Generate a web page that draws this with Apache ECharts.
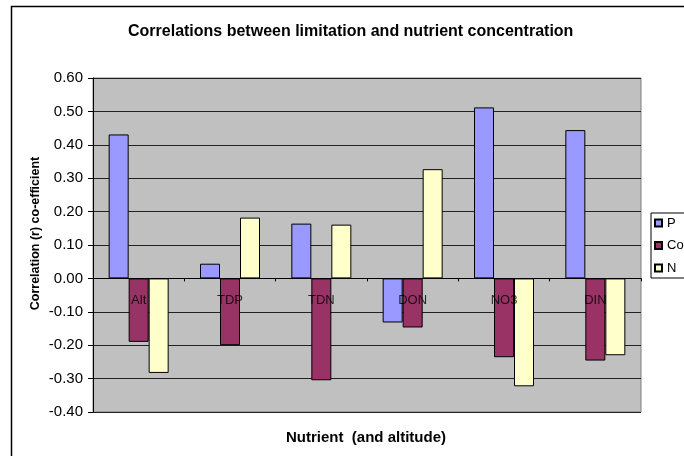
<!DOCTYPE html>
<html>
<head>
<meta charset="utf-8">
<script src="https://cdn.jsdelivr.net/npm/echarts@6/dist/echarts.min.js"></script>
<style>
  html, body { margin: 0; padding: 0; background: #fff; }
  #chart { width: 684px; height: 456px; }
</style>
</head>
<body>
<div id="chart"></div>
<script>
// Nutrient categories (altitude first)
const categories = ['Alt', 'TDP', 'TDN', 'DON', 'NO3', 'DIN'];

// Correlation coefficients per limitation group
const seriesNames = ['P', 'Co', 'N'];
const pValues  = [0.431, 0.044, 0.164, -0.132, 0.512, 0.444];
const coValues = [-0.190, -0.200, -0.305, -0.147, -0.236, -0.246];
const nValues  = [-0.283, 0.182, 0.161, 0.327, -0.323, -0.230];

// Category names sit just under the r = 0 line
const labelBaseline = [0, 0, 0, 0, 0, 0];

const seriesColors = ['#9999FF', '#993366', '#FFFFCC'];
const FONT = '"Liberation Sans", Arial, sans-serif';

const chart = echarts.init(document.getElementById('chart'), null, { renderer: 'canvas' });

const makeBar = (name, data, color) => ({
  name: name,
  type: 'bar',
  data: data,
  barWidth: 20,
  barGap: '0%',
  itemStyle: { color: color, borderColor: '#000', borderWidth: 1 }
});

chart.setOption({
  animation: false,
  backgroundColor: '#fff',
  textStyle: { fontFamily: FONT },
  title: {
    text: 'Correlations between limitation and nutrient concentration',
    left: 123,
    top: 19,
    textStyle: { fontFamily: FONT, fontSize: 16, fontWeight: 'bold', color: '#000' }
  },
  grid: {
    left: 93, right: 43, top: 78, bottom: 44,
    show: true,
    backgroundColor: '#C0C0C0',
    borderColor: '#808080',
    borderWidth: 1
  },
  legend: {
    orient: 'vertical',
    left: 651,
    top: 213,
    padding: [3, 30, 3, 3],
    itemWidth: 7,
    itemHeight: 7,
    itemGap: 8.5,
    backgroundColor: '#fff',
    borderColor: '#000',
    borderWidth: 1,
    icon: 'rect',
    textStyle: { fontFamily: FONT, fontSize: 13, color: '#000', lineHeight: 14 },
    data: seriesNames
  },
  xAxis: {
    type: 'category',
    data: categories,
    z: 5,
    axisLine: { onZero: true, lineStyle: { color: '#000', width: 1 } },
    axisTick: { show: true, interval: 0, length: 3, lineStyle: { color: '#000' } },
    axisLabel: { show: false },
    splitLine: { show: false }
  },
  yAxis: {
    type: 'value',
    min: -0.4,
    max: 0.6,
    interval: 0.1,
    axisLine: { show: true, lineStyle: { color: '#000', width: 1 } },
    axisTick: { show: true, length: 5, lineStyle: { color: '#000' } },
    axisLabel: {
      margin: 10,
      fontFamily: FONT, fontSize: 15, color: '#000',
      formatter: v => v.toFixed(2)
    },
    splitLine: { show: true, lineStyle: { color: '#222', width: 1 } }
  },
  series: [
    makeBar(seriesNames[0], pValues, seriesColors[0]),
    makeBar(seriesNames[1], coValues, seriesColors[1]),
    makeBar(seriesNames[2], nValues, seriesColors[2]),
    {
      name: 'categoryLabels',
      type: 'scatter',
      data: labelBaseline,
      symbol: 'circle',
      symbolSize: 1,
      silent: true,
      z: 10,
      itemStyle: { color: 'rgba(0,0,0,0)' },
      label: {
        show: true,
        position: 'bottom',
        distance: 15,
        fontFamily: FONT,
        fontSize: 13,
        color: '#000',
        formatter: p => categories[p.dataIndex]
      }
    }
  ],
  graphic: [
    {
      type: 'rect',
      silent: true,
      shape: { x: 11.5, y: 6.5, width: 720, height: 480 },
      style: { fill: 'none', stroke: '#000', lineWidth: 1.5 },
      z: -10
    },
    {
      type: 'text',
      x: 35.5, y: 233.5,
      rotation: Math.PI / 2,
      style: {
        text: 'Correlation (r) co-efficient',
        font: 'bold 12.5px ' + FONT,
        fill: '#000',
        textAlign: 'center',
        textVerticalAlign: 'middle'
      }
    },
    {
      type: 'text',
      x: 366, y: 437.5,
      style: {
        text: 'Nutrient  (and altitude)',
        font: 'bold 15px ' + FONT,
        fill: '#000',
        textAlign: 'center',
        textVerticalAlign: 'middle'
      }
    }
  ]
});
</script>
</body>
</html>
